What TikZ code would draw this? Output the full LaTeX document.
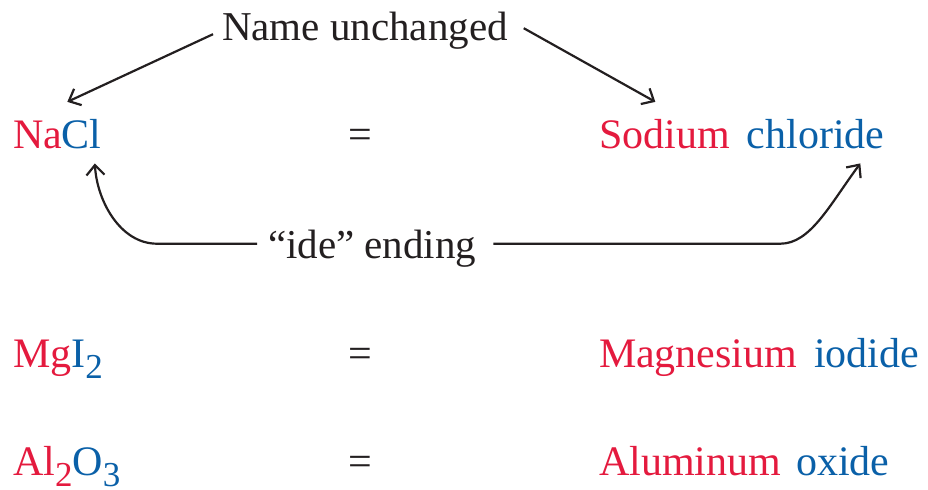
\documentclass[tikz,border=0pt]{standalone}
\usepackage{fontspec}
\setmainfont{Liberation Serif}
\usetikzlibrary{arrows.meta, positioning}

\definecolor{metalred}{RGB}{228,26,62}
\definecolor{nonmetalblue}{RGB}{10,96,168}
\definecolor{inkgray}{RGB}{35,31,32}

\newcommand{\chemsub}[1]{\raisebox{-5.5pt}{\fontsize{17.5}{20}\selectfont #1}}

\begin{document}
\begin{tikzpicture}[
    x=0.5pt, y=-0.5pt,
    chem/.style={inner sep=0pt, outer sep=0pt, anchor=base west, font=\fontsize{21}{25}\selectfont},
    note/.style={inner sep=0pt, outer sep=0pt, anchor=base west, text=inkgray, font=\fontsize{20.5}{24}\selectfont},
    eqsign/.style={inner sep=0pt, outer sep=0pt, anchor=base, text=inkgray, font=\fontsize{21}{25}\selectfont},
    pointer/.style={draw=inkgray, line width=1.1pt, -{Straight Barb[length=5pt, width=9pt]}}
]
    \useasboundingbox (0,0) rectangle (928,489);

    % Formulas
    \node [chem] (nacl) at (13,148) {\textcolor{metalred}{Na}\textcolor{nonmetalblue}{Cl}};
    \node [chem] (mgi)  at (13,367) {\textcolor{metalred}{Mg}\textcolor{nonmetalblue}{I\chemsub{2}}};
    \node [chem] (alo)  at (13,475) {\textcolor{metalred}{Al\chemsub{2}}\textcolor{nonmetalblue}{O\chemsub{3}}};

    % Equals signs
    \foreach \y/\name in {148/eqa, 367/eqb, 475/eqc} {
        \node [eqsign] (\name) at (360,\y) {=};
    }

    % Names
    \node [chem, text=metalred] (sodium) at (599,148) {Sodium};
    \node [chem, text=nonmetalblue, base right=8.5pt of sodium] (chloride) {chloride};
    \node [chem, text=metalred] (magnesium) at (599,367) {Magnesium};
    \node [chem, text=nonmetalblue, base right=8.5pt of magnesium] (iodide) {iodide};
    \node [chem, text=metalred] (aluminum) at (599,475) {Aluminum};
    \node [chem, text=nonmetalblue, base right=7.5pt of aluminum] (oxide) {oxide};

    % Notes
    \node [note] (same) at (222,40) {Name unchanged};
    \node [note] (ide) at (268,258) {``ide'' ending};

    % Pointers
    \draw [pointer] ([xshift=-4.5pt, yshift=-2pt]same.west) -- ([xshift=5pt, yshift=8.5pt]nacl.north);
    \draw [pointer] ([xshift=8pt, yshift=1pt]same.east) -- ([xshift=-4.5pt, yshift=8.5pt]sodium.north);
    \draw [pointer] ([xshift=-5.5pt, yshift=2.25pt]ide.west) -- ++(-100,0)
        .. controls +(-37,0) and +(2,37) .. ([xshift=-3.4pt, yshift=-7.5pt]nacl.south east);
    \draw [pointer] ([xshift=8.5pt, yshift=2.25pt]ide.east) -- ++(287,0)
        .. controls +(30,0) and +(-31,42) .. ([xshift=-12pt, yshift=-7.5pt]chloride.south east);
\end{tikzpicture}
\end{document}
